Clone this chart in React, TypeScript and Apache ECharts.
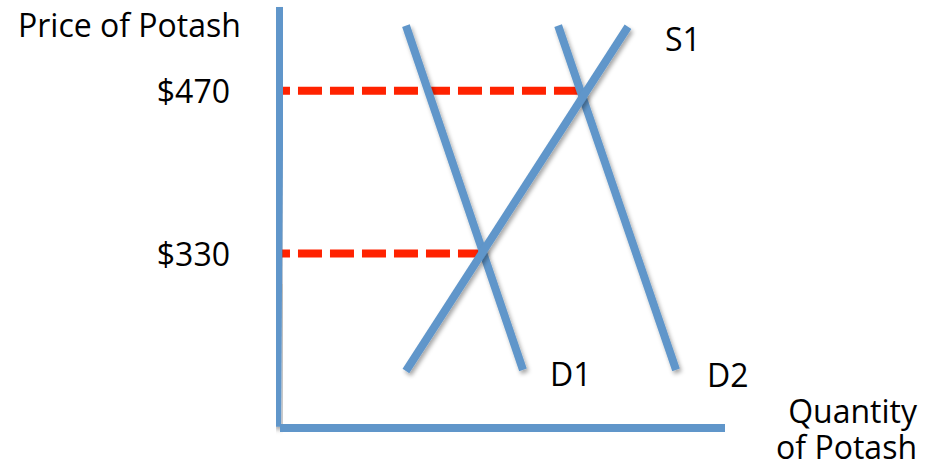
import React, { useEffect, useRef } from "react";
import * as echarts from "echarts";

// Axis range (quantity: arbitrary units, price in $)
const xRange = [0, 100];
const yRange = [180, 542];

// Tick labels shown on the price axis
const priceTicks = [330, 470];

// Curves: [quantity, price]
const demand1 = [
  [28.3, 526],
  [54.6, 230],
];
const demand2 = [
  [62.5, 526],
  [89.0, 230],
];
const supply1 = [
  [28.3, 229],
  [78.2, 525],
];

// Dashed price guides
const guide470 = [
  [-3.15, 470],
  [67.4, 470],
];
const guide330 = [
  [-3.15, 330],
  [45.0, 330],
];

// Hand-drawn axes
const yAxisLine = [
  [0, 542],
  [-0.67, 181],
];
const xAxisLine = [
  [0, 180],
  [100, 180],
];

const BLUE = "#6096CA";
const RED = "#FF2200";
const FONT = "Open Sans";
const shadow = {
  shadowColor: "rgba(0,0,0,0.35)",
  shadowBlur: 4,
  shadowOffsetX: 2,
  shadowOffsetY: 3,
};

export default function App() {
  const ref = useRef<HTMLDivElement>(null);
  useEffect(() => {
    if (!ref.current) return;
    const chart = echarts.init(ref.current, null, { renderer: "svg" });
    const textStyle = { fontFamily: FONT, fontSize: 32, color: "#000" };
    const blueLine = (
      name: string,
      data: number[][],
      label?: { offset: number[] },
      withShadow = true
    ) => ({
      type: "line",
      name,
      data,
      showSymbol: false,
      symbol: "none",
      clip: false,
      silent: true,
      lineStyle: { color: BLUE, width: 8, cap: "butt", ...(withShadow ? shadow : {}) },
      endLabel: label
        ? {
            show: true,
            formatter: name,
            distance: 0,
            offset: label.offset,
            ...textStyle,
          }
        : { show: false },
      z: 3,
    });
    const redLine = (name: string, data: number[][]) => ({
      type: "line",
      name,
      data,
      showSymbol: false,
      symbol: "none",
      clip: false,
      silent: true,
      lineStyle: { color: RED, width: 8, type: [24, 8], cap: "butt" },
      z: 2,
    });
    chart.setOption({
      animation: false,
      backgroundColor: "#fff",
      grid: {
        left: 280,
        right: 207,
        top: 7,
        bottom: 37,
        containLabel: false,
        outerBoundsMode: "none",
      },
      xAxis: {
        type: "value",
        min: xRange[0],
        max: xRange[1],
        show: false,
      },
      yAxis: {
        type: "value",
        min: yRange[0],
        max: yRange[1],
        axisLine: { show: false },
        axisTick: { show: false },
        splitLine: { show: false },
        axisLabel: {
          customValues: priceTicks,
          formatter: (v: number) => "$" + v,
          margin: 50,
          padding: [3, 0, 0, 0],
          ...textStyle,
        },
      },
      graphic: [
        {
          type: "text",
          x: 18,
          y: 24,
          style: {
            text: "Price of Potash",
            font: `32px "${FONT}"`,
            fill: "#000",
            align: "left",
            verticalAlign: "middle",
          },
        },
        {
          type: "text",
          x: 917,
          y: 464,
          style: {
            text: "Quantity\nof Potash",
            font: `32px "${FONT}"`,
            lineHeight: 36,
            fill: "#000",
            align: "right",
            verticalAlign: "bottom",
          },
        },
      ],
      series: [
        redLine("P470", guide470),
        redLine("P330", guide330),
        blueLine("D1", demand1, { offset: [27, 4] }),
        blueLine("D2", demand2, { offset: [31, 5] }),
        blueLine("S1", supply1, { offset: [37, 12] }),
        blueLine("yAxisLine", yAxisLine),
        blueLine("xAxisLine", xAxisLine, undefined, false),
      ],
    });
    return () => chart.dispose();
  }, []);
  return (
    <div
      ref={ref}
      style={{ position: "fixed", left: 0, top: 0, width: 932, height: 465 }}
    />
  );
}
